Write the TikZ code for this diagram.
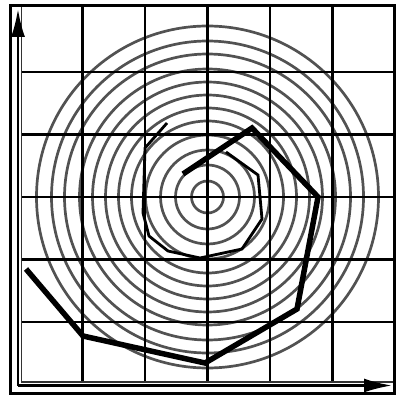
\documentclass[tikz,border=0pt]{standalone}
\usetikzlibrary{arrows.meta}
\begin{document}
\begin{tikzpicture}[x=1pt,y=-1pt,
  gridline/.style={line width=2.7pt,black},
  ring/.style={line width=2.7pt,black!68},
  frameline/.style={line width=3pt,black},
  axisline/.style={line width=2.4pt,black,-{Latex[length=28pt,width=14pt]}},
  spiralthick/.style={line width=5.5pt,black},
  spiralthin/.style={line width=2.8pt,black}]
\useasboundingbox (0,0) rectangle (398,398);
% rings
\coordinate (c) at (207.5,197);
\foreach \r in {16,32,47,62,76,89,102,115,128,143,156,171}
  \draw[ring] (c) circle[radius=\r pt];
% grid
\foreach \x in {82.5,145,207.5,270,332.5}
  \draw[gridline] (\x,5.5) -- (\x,383);
\foreach \y in {72,134.5,197,259.5,322}
  \draw[gridline] (21,\y) -- (394,\y);
\draw[line width=1.8pt,black!80] (21.5,5.5) -- (21.5,382) -- (394,382);
% outer frame
\draw[frameline] (10,5.5) -- (394,5.5) -- (394,393) -- (10,393) -- cycle;
% axes
\coordinate (o) at (18,385.5);
\coordinate (ytip) at (18,9);
\coordinate (xtip) at (392,385.5);
\draw[axisline] (o) -- (ytip);
\draw[axisline] (o) -- (xtip);
% spirals
\draw[spiralthin] (167,123) -- (145,148) -- (143,213) -- (149,236) -- (168,251)
  -- (200,258) -- (242,249) -- (262,219) -- (258,175) -- (226,152);
\draw[spiralthick] (26,269) -- (83,336) -- (205,363) -- (297,309) -- (318,197)
  -- (252,128) -- (183,174);
\end{tikzpicture}
\end{document}
